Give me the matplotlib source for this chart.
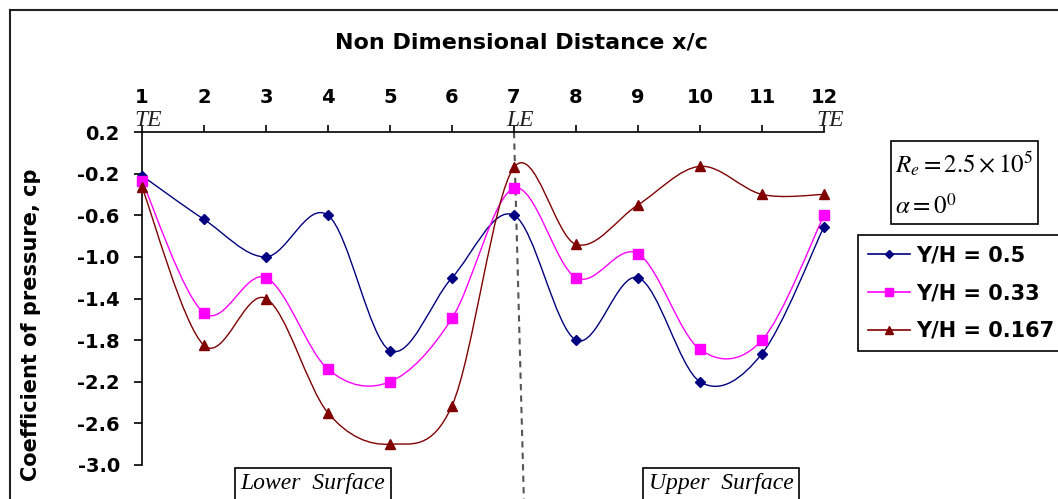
import numpy as np
import matplotlib
matplotlib.use("Agg")
import matplotlib.pyplot as plt
from matplotlib.path import Path
from matplotlib.patches import PathPatch, Rectangle
from matplotlib.lines import Line2D

plt.rcParams.update({
    "font.family": "DejaVu Sans",
    "mathtext.fontset": "stix",
    "axes.unicode_minus": False,
})

# --- data ---
stations = [1, 2, 3, 4, 5, 6, 7, 8, 9, 10, 11, 12]
cp_05 = [-0.22, -0.64, -1.00, -0.60, -1.90, -1.20, -0.60, -1.80, -1.20, -2.20, -1.93, -0.71]
cp_033 = [-0.27, -1.54, -1.20, -2.08, -2.20, -1.59, -0.34, -1.20, -0.97, -1.89, -1.80, -0.60]
cp_0167 = [-0.33, -1.85, -1.40, -2.50, -2.80, -2.43, -0.14, -0.88, -0.50, -0.13, -0.40, -0.40]
yticks = [0.2, -0.2, -0.6, -1.0, -1.4, -1.8, -2.2, -2.6, -3.0]
edge_labels = {1: "TE", 7: "LE", 12: "TE"}

W, H = 1058, 499


def fx(px):
    return px / W


def fy(py):
    return 1 - py / H


def smooth_path(xs, ys):
    # Excel-like smoothed line: cubic bezier through every point
    pts = np.column_stack([xs, ys]).astype(float)
    n = len(pts)
    verts = [pts[0]]
    codes = [Path.MOVETO]
    for i in range(n - 1):
        p0 = pts[max(i - 1, 0)]
        p1 = pts[i]
        p2 = pts[i + 1]
        p3 = pts[min(i + 2, n - 1)]
        verts += [p1 + (p2 - p0) / 6, p2 - (p3 - p1) / 6, p2]
        codes += [Path.CURVE4] * 3
    return Path(verts, codes)


fig = plt.figure(figsize=(W / 100, H / 100), dpi=100)
ax = fig.add_axes([fx(142), fy(465), fx(824) - fx(142), fy(132) - fy(465)])

series = [
    ("Y/H = 0.5", cp_05, "#000080", "D", 5.5),
    ("Y/H = 0.33", cp_033, "#ff00ff", "s", 6.5),
    ("Y/H = 0.167", cp_0167, "#800000", "^", 7),
]
handles = []
for label, vals, col, mk, ms in series:
    ax.add_patch(PathPatch(smooth_path(stations, vals), facecolor="none",
                           edgecolor=col, lw=1.0, clip_on=False, zorder=3))
    ax.plot(stations, vals, ls="none", marker=mk, ms=ms, color=col,
            clip_on=False, zorder=4)
    handles.append(Line2D([], [], color=col, lw=1.2, marker=mk, ms=ms - 1))

ax.set_xlim(1, 12)
ax.set_ylim(-3.0, 0.2)
ax.set_xticks(stations)
ax.set_yticks(yticks)
ax.set_yticklabels([f"{v:.1f}" for v in yticks])
ax.xaxis.tick_top()
for s in ("bottom", "right"):
    ax.spines[s].set_visible(False)
ax.spines["top"].set_linewidth(1.2)
ax.spines["left"].set_linewidth(1.2)
ax.tick_params(axis="x", direction="out", length=5, width=1.2, pad=13,
               labelsize=14)
ax.tick_params(axis="y", direction="out", length=6, width=1.2, pad=10,
               labelsize=14)
for t in ax.get_xticklabels() + ax.get_yticklabels():
    t.set_fontweight("bold")

# TE / LE marks
for xs, txt in edge_labels.items():
    ax.text(xs + 0.1, 0.21, txt, family="Liberation Serif", style="italic",
            fontsize=17, ha="center", va="bottom", color="#222222", clip_on=False)

# leading edge dashed line
ax.plot([7, 7.16], [0.2, -3.35], ls=(0, (3, 2.5)), color="#555555", lw=1.5,
        clip_on=False, zorder=2)

fig.text(fx(521), fy(42), "Non Dimensional Distance x/c", ha="center",
         va="center", fontsize=16, fontweight="bold")
fig.text(fx(31), fy(325), "Coefficient of pressure, cp", rotation=90,
         ha="center", va="center", fontsize=15, fontweight="bold")

# outer frame (cropped at right and bottom)
fig.add_artist(Line2D([fx(10), 1], [fy(10), fy(10)], color="#222222", lw=1.5))
fig.add_artist(Line2D([fx(10), fx(10)], [fy(10), 0], color="#222222", lw=1.5))

# info box
fig.add_artist(Rectangle((fx(891), fy(224)), fx(1038) - fx(891), fy(141) - fy(224),
                         fill=False, ec="black", lw=1.2))
fig.text(fx(895), fy(164), r"$R_e = 2.5\times10^5$", fontsize=18,
         ha="left", va="center")
fig.text(fx(895), fy(206), r"$\alpha = 0^0$", fontsize=18, ha="left", va="center")

# surface boxes
for cx, txt in ((313, "Lower  Surface"), (721, "Upper  Surface")):
    fig.text(fx(cx), fy(484), txt, family="Liberation Serif", style="italic",
             fontsize=17, ha="center", va="center",
             bbox=dict(boxstyle="square,pad=0.22", fc="white", ec="black", lw=1.2))

leg = fig.legend(handles, [s[0] for s in series], loc="upper left",
                 bbox_to_anchor=(fx(858), fy(235)), frameon=True, fancybox=False,
                 edgecolor="black", framealpha=1, handlelength=2.0,
                 handletextpad=0.3, labelspacing=0.85, borderpad=0.5,
                 borderaxespad=0,
                 prop={"family": "DejaVu Sans", "weight": "bold", "size": 15})
leg.get_frame().set_linewidth(1.2)

fig.savefig("out.png", dpi=100)
